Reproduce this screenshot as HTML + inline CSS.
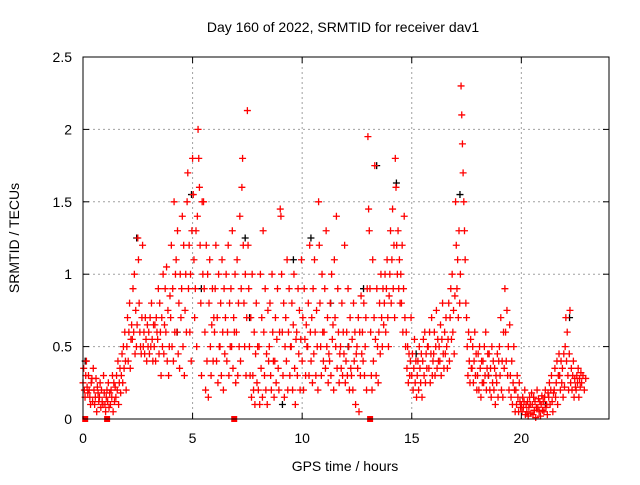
<!DOCTYPE html>
<html><head><meta charset="utf-8"><style>
body{margin:0;background:#fff}
svg text{font-family:"Liberation Sans",sans-serif;font-size:14px;fill:#000}
</style></head><body>
<svg id="chart" width="640" height="480">
<rect width="640" height="480" fill="#fff"/>
<g id="grid"></g>
<g id="marks"></g>
<g id="axes"></g>
</svg>
<script>
const xTicks=[0,5,10,15,20];
const yTicks=[0,0.5,1,1.5,2,2.5];
const yTickLabels=["0","0.5","1","1.5","2","2.5"];
const binWidth=0.25;
const redBins=[
[0.0,[.25,.35,.2,.15,.3,.4,.22,.18]],
[0.25,[.3,.2,.15,.1,.25,.28,.12,.35]],
[0.5,[.2,.1,.15,.28,.05,.22,.18,.12]],
[0.75,[.15,.25,.08,.2,.12,.1,.3,.18]],
[1.0,[.1,.05,.15,.2,.12,.25,.08,.18]],
[1.25,[.1,.2,.15,.3,.05,.25,.12,.22]],
[1.5,[.15,.3,.2,.4,.1,.25,.35,.18]],
[1.75,[.3,.45,.25,.5,.35,.6,.4,.2]],
[2.0,[.5,.7,.4,.6,.8,.35,.55,.65]],
[2.25,[.55,.9,.6,1.0,.45,.75,.5,.65]],
[2.5,[1.25,1.1,.8,.6,.5,.45,.7,1.2]],
[2.75,[.5,.6,.45,.7,.55,.4,.65,.5]],
[3.0,[.6,.45,.7,.5,.8,.55,.4,.65]],
[3.25,[.5,.65,.4,.7,.6,.55,.9,.45]],
[3.5,[.8,.6,.3,.7,.5,1.0,.45,.65]],
[3.75,[.9,.6,1.05,.4,.75,.3,.5,.85]],
[4.0,[.7,1.2,.5,.9,.4,1.5,.6,1.0]],
[4.25,[1.1,.6,1.3,.45,.8,.35,1.0,.7]],
[4.5,[.9,1.4,.5,1.2,.3,.75,1.0,.6]],
[4.75,[1.5,1.7,.9,1.2,.6,1.0,.4,1.3]],
[5.0,[1.8,1.55,1.1,.7,.9,1.3,.5,1.4]],
[5.25,[2.0,1.8,1.6,1.2,.8,.3,1.5,1.0]],
[5.5,[1.5,.9,.6,.2,1.2,.4,1.0,.15]],
[5.75,[.8,1.1,.5,.3,.65,.9,.4,.7]],
[6.0,[.6,.9,1.2,.4,.7,.25,1.0,.5]],
[6.25,[.5,.8,.3,1.1,.6,.2,.9,.45]],
[6.5,[.7,1.0,.4,.6,1.2,.3,.8,.5]],
[6.75,[.9,.5,1.3,.35,.7,.6,1.0,.25]],
[7.0,[.6,1.1,.3,.8,.5,1.4,.4,.9]],
[7.25,[1.6,1.8,1.2,.8,.5,1.0,.3,.7]],
[7.5,[2.13,1.2,.9,.5,.3,.7,.15,1.0]],
[7.75,[.3,.2,.6,.1,.45,.8,.25,.5]],
[8.0,[.2,.5,.1,1.0,.35,.7,.15,1.3]],
[8.25,[.6,.3,.9,.2,.45,.1,.75,.4]],
[8.5,[.5,.8,.3,.2,1.0,.6,.4,.15]],
[8.75,[.4,.7,.25,.55,.9,.35,.2,.6]],
[9.0,[1.45,1.4,1.0,.6,.3,.8,.15,.5]],
[9.25,[.7,.4,1.1,.2,.6,.9,.3,.5]],
[9.5,[.5,.8,.2,.65,1.0,.35,.1,.55]],
[9.75,[.6,.3,.9,.45,.75,.2,.55,1.1]],
[10.0,[.4,.7,.2,.9,.55,.3,.65,.5]],
[10.25,[.5,.8,.3,1.2,.6,.4,.7,.25]],
[10.5,[.9,.45,1.1,.6,.3,.75,.5,.2]],
[10.75,[1.5,1.2,.8,.5,.3,1.0,.6,.4]],
[11.0,[.6,.9,.35,1.3,.5,.7,.25,.45]],
[11.25,[.4,.8,.3,1.0,.55,.65,.2,1.1]],
[11.5,[.7,.5,1.4,.35,.9,.6,.25,.45]],
[11.75,[.5,.35,.8,.3,.6,.45,1.2,.25]],
[12.0,[.4,.6,.3,.9,.5,.2,.7,.35]],
[12.25,[.3,.55,.2,.8,.4,.6,.1,.45]],
[12.5,[.5,.35,.7,.05,.6,.3,.85,.45]],
[12.75,[.6,.4,.8,.3,.5,.7,.2,.9]],
[13.0,[1.95,1.45,1.3,.9,.6,.3,.2,1.1]],
[13.25,[.4,.7,1.75,.55,.3,.9,.5,.25]],
[13.5,[.6,.8,.45,1.0,.7,.5,.9,.65]],
[13.75,[.8,1.0,.6,.9,1.1,.7,.5,.85]],
[14.0,[1.0,1.3,.8,1.1,1.45,.9,1.2,.7]],
[14.25,[1.8,1.6,1.2,1.0,1.3,.9,1.1,.8]],
[14.5,[1.0,.8,1.2,.6,.9,1.4,.7,.5]],
[14.75,[.6,.35,.5,.25,.45,.3,.4,.7]],
[15.0,[.3,.45,.2,.35,.55,.25,.4,.15]],
[15.25,[.3,.4,.2,.5,.35,.25,.45,.15]],
[15.5,[.4,.55,.3,.6,.25,.45,.35,.5]],
[15.75,[.5,.35,.6,.25,.45,.7,.3,.4]],
[16.0,[.45,.6,.3,.5,.75,.35,.55,.4]],
[16.25,[.5,.4,.65,.3,.55,.8,.45,.35]],
[16.5,[.6,.45,.7,.5,.35,.55,.8,.4]],
[16.75,[.7,.9,.55,1.0,.6,.75,.45,.85]],
[17.0,[1.5,1.2,.9,1.1,.7,1.3,.8,1.0]],
[17.25,[2.3,2.1,1.9,1.7,1.5,1.3,1.1,.8]],
[17.5,[.7,.5,.3,.6,.4,.25,.55,.35]],
[17.75,[.35,.5,.25,.4,.6,.3,.45,.2]],
[18.0,[.3,.45,.2,.5,.35,.15,.4,.25]],
[18.25,[.4,.25,.5,.3,.6,.2,.35,.45]],
[18.5,[.3,.45,.2,.35,.15,.5,.25,.4]],
[18.75,[.2,.35,.1,.3,.25,.45,.15,.4]],
[19.0,[.5,.3,.7,.2,.4,.15,.6,.35]],
[19.25,[.9,.6,.4,.75,.3,.5,.2,.65]],
[19.5,[.3,.15,.4,.1,.25,.5,.2,.05]],
[19.75,[.2,.1,.3,.15,.05,.25,.12,.08]],
[20.0,[.1,.05,.15,.08,.12,.2,.03,.1]],
[20.25,[.05,.12,.02,.08,.15,.1,.04,.18]],
[20.5,[.1,.03,.15,.06,.12,.01,.08,.2]],
[20.75,[.08,.14,.05,.12,.02,.1,.16,.06]],
[21.0,[.12,.05,.15,.2,.08,.1,.03,.18]],
[21.25,[.15,.25,.1,.2,.3,.12,.05,.18]],
[21.5,[.2,.35,.15,.25,.4,.1,.3,.45]],
[21.75,[.3,.2,.4,.25,.35,.15,.45,.22]],
[22.0,[.5,.7,.4,.6,.3,.2,.45,.75]],
[22.25,[.25,.35,.2,.3,.4,.15,.28,.22]],
[22.5,[.2,.3,.25,.35,.15,.28,.22,.32]],
[22.75,[.25,.3,.2,.28]]
];
const blackTimes=[0.1,2.45,4.3,4.95,5.4,7.4,7.6,9.1,9.6,10.4,11.3,12.1,12.8,13.4,14.3,15.2,17.2,18.5,21.1,22.2];
const blackValues=[0.4,1.25,0.6,1.55,0.9,1.25,0.7,0.1,1.1,1.25,0.8,0.5,0.9,1.75,1.63,0.45,1.55,0.3,0.1,0.7];
const gapTimes=[0.1,1.1,6.9,13.1];

const X0=83,X1=609,Y0=419,Y1=57,XMAX=24,YMAX=2.5;
const sx=t=>X0+(X1-X0)*t/XMAX;
const sy=v=>Y0-(Y0-Y1)*v/YMAX;
const NS="http://www.w3.org/2000/svg";
function mk(tag,attrs,parent){const e=document.createElementNS(NS,tag);for(const k in attrs)e.setAttribute(k,attrs[k]);parent.appendChild(e);return e;}
const grid=document.getElementById('grid'),marks=document.getElementById('marks'),axes=document.getElementById('axes');

xTicks.forEach(t=>{
 if(t>0){const g=mk('line',{x1:sx(t),x2:sx(t),y1:Y0,y2:Y1,stroke:'#a0a0a0','stroke-dasharray':'2,3'},grid);
 
 }
 mk('line',{x1:sx(t),x2:sx(t),y1:Y0,y2:Y0-6,stroke:'#000'},axes);
 mk('line',{x1:sx(t),x2:sx(t),y1:Y1,y2:Y1+6,stroke:'#000'},axes);
 const l=mk('text',{x:sx(t),y:443,'text-anchor':'middle'},axes);l.textContent=String(t);
 
 
});
yTicks.forEach((v,i)=>{
 if(v>0&&v<YMAX){const g=mk('line',{x1:X0,x2:X1,y1:sy(v),y2:sy(v),stroke:'#a0a0a0','stroke-dasharray':'2,3'},grid);
 
 }
 mk('line',{x1:X0,x2:X0+6,y1:sy(v),y2:sy(v),stroke:'#000'},axes);
 mk('line',{x1:X1,x2:X1-6,y1:sy(v),y2:sy(v),stroke:'#000'},axes);
 const l=mk('text',{x:72,y:sy(v)+5,'text-anchor':'end'},axes);l.textContent=yTickLabels[i];
 
 
});
const frame=mk('rect',{x:X0,y:Y1,width:X1-X0,height:Y0-Y1,fill:'none',stroke:'#000'},axes);



function plus(x,y,c,name){const p=mk('path',{d:`M${x-3.5},${y}h7M${x},${y-3.5}v7`,stroke:c,'stroke-width':1.3,fill:'none'},marks);
 
 }
blackTimes.forEach((t,i)=>plus(sx(t),sy(blackValues[i]),'#000','black-point'));
redBins.forEach(([t,vals])=>{vals.forEach((v,j)=>plus(sx(t+binWidth*j/vals.length),sy(v),'#ff0000','red-point'));});
gapTimes.forEach(t=>{const r=mk('rect',{x:sx(t)-3,y:Y0-3,width:6,height:6,fill:'#ff0000'},marks);
 
 });

const T=mk('text',{x:343,y:32,'text-anchor':'middle'},axes);T.textContent='Day 160 of 2022, SRMTID for receiver dav1';


const XT=mk('text',{x:345,y:471,'text-anchor':'middle'},axes);XT.textContent='GPS time / hours';


const YT=mk('text',{x:19,y:238,'text-anchor':'middle',transform:'rotate(-90 19 238)'},axes);YT.textContent='SRMTID / TECUs';


</script>
</body></html>
